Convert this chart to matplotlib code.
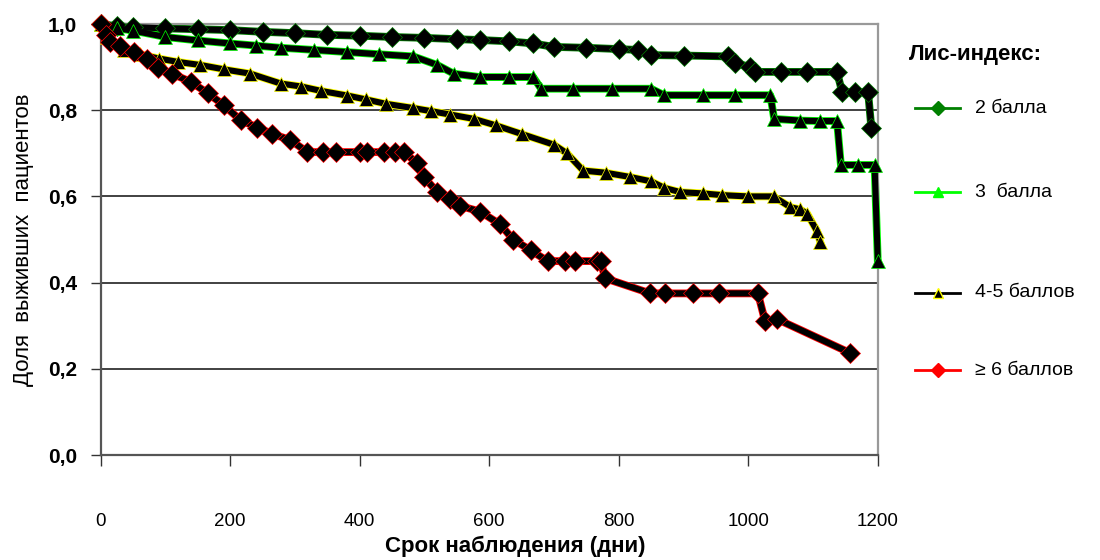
import numpy as np
import matplotlib.pyplot as plt
from matplotlib.lines import Line2D

# ---- data ----
days_2 = [0, 25, 50, 100, 150, 200, 250, 300, 350, 400, 450, 500, 550, 586, 630,
          668, 700, 750, 800, 829, 850, 900, 968, 980, 1003, 1010, 1050, 1090,
          1137, 1145, 1165, 1185, 1190]
surv_2 = [1.0, 0.995, 0.993, 0.99, 0.988, 0.986, 0.982, 0.979, 0.975, 0.973, 0.97,
          0.968, 0.965, 0.963, 0.96, 0.955, 0.947, 0.945, 0.942, 0.94, 0.928, 0.927,
          0.925, 0.91, 0.9, 0.889, 0.889, 0.889, 0.889, 0.842, 0.842, 0.842, 0.76]

days_3 = [0, 25, 50, 100, 150, 200, 240, 278, 330, 381, 430, 483, 520, 545, 586,
          630, 668, 680, 730, 790, 850, 870, 930, 980, 1034, 1040, 1080, 1110,
          1137, 1143, 1170, 1195, 1200]
surv_3 = [1.0, 0.99, 0.985, 0.97, 0.962, 0.955, 0.95, 0.945, 0.94, 0.935, 0.93,
          0.925, 0.905, 0.885, 0.877, 0.877, 0.877, 0.85, 0.85, 0.85, 0.85, 0.835,
          0.835, 0.835, 0.835, 0.78, 0.776, 0.775, 0.775, 0.673, 0.673, 0.673, 0.45]

days_45 = [0, 10, 36, 60, 90, 120, 154, 190, 231, 278, 310, 340, 381, 410, 440,
           483, 510, 540, 576, 610, 650, 700, 720, 745, 780, 818, 850, 870, 895,
           930, 960, 1000, 1039, 1065, 1080, 1091, 1106, 1111]
surv_45 = [1.0, 0.97, 0.94, 0.93, 0.92, 0.912, 0.905, 0.895, 0.885, 0.862, 0.855,
           0.845, 0.834, 0.825, 0.815, 0.805, 0.798, 0.79, 0.78, 0.765, 0.745, 0.72,
           0.70, 0.66, 0.655, 0.645, 0.635, 0.62, 0.61, 0.607, 0.603, 0.60, 0.60,
           0.575, 0.57, 0.56, 0.52, 0.495]

days_6 = [0, 8, 15, 30, 51, 72, 88, 110, 139, 165, 190, 216, 242, 265, 293, 319,
          344, 363, 401, 412, 437, 455, 468, 489, 499, 520, 540, 555, 586, 617,
          637, 664, 690, 717, 733, 767, 772, 779, 849, 872, 914, 955, 1015, 1026,
          1045, 1157]
surv_6 = [1.0, 0.975, 0.958, 0.948, 0.935, 0.92, 0.898, 0.885, 0.866, 0.84, 0.812,
          0.777, 0.76, 0.745, 0.731, 0.703, 0.703, 0.703, 0.703, 0.703, 0.703, 0.703,
          0.703, 0.677, 0.645, 0.61, 0.595, 0.578, 0.565, 0.535, 0.5, 0.475, 0.45,
          0.45, 0.45, 0.45, 0.45, 0.41, 0.375, 0.375, 0.375, 0.375, 0.375, 0.31,
          0.315, 0.237]

labels = ["2 балла", "3  балла", "4-5 баллов", "\u2265 6 баллов"]
edge_colors = ["#008000", "#00ff00", "#ffff00", "#ff0000"]
legend_line_colors = ["#008000", "#00ff00", "#000000", "#ff0000"]
legend_marker_colors = ["#008000", "#00ff00", "#000000", "#ff0000"]
markers = ["D", "^", "^", "D"]

plt.rcParams["font.family"] = ["Liberation Sans", "DejaVu Sans"]

fig = plt.figure(figsize=(11, 5.6), dpi=100)
ax = fig.add_axes([0.0915, 0.1875, 0.7065, 0.7695])

ax.set_xlim(0, 1200)
ax.set_ylim(0, 1.0)

for v in [0.2, 0.4, 0.6, 0.8]:
    ax.axhline(v, color="#333333", linewidth=1.3, zorder=1)

series = [(days_2, surv_2), (days_3, surv_3), (days_45, surv_45), (days_6, surv_6)]
for (d, s), ec, mk in zip(series, edge_colors, markers):
    # thin coloured rim under the thick black line
    ax.plot(d, s, color=ec, linewidth=5.6, clip_on=False, zorder=2)
    ax.plot(
        d, s,
        color="black",
        linewidth=4.4,
        marker=mk,
        markersize=10,
        markerfacecolor="black",
        markeredgecolor=ec,
        markeredgewidth=0.5,
        clip_on=False,
        zorder=3,
    )

ax.set_xticks(np.arange(0, 1201, 200))
ax.set_xticklabels([str(t) for t in range(0, 1201, 200)], fontsize=13.5)
ax.set_yticks(np.arange(0, 1.01, 0.2))
ax.set_yticklabels(["0,0", "0,2", "0,4", "0,6", "0,8", "1,0"],
                   fontsize=15, fontweight="bold")
ax.tick_params(axis="x", direction="out", length=8, width=1, pad=34, colors="#333333",
               labelcolor="black")
ax.tick_params(axis="y", direction="out", length=7, width=1, pad=10, colors="#333333",
               labelcolor="black")

for side in ["top", "right"]:
    ax.spines[side].set_color("#999999")
    ax.spines[side].set_linewidth(1.6)
for side in ["left", "bottom"]:
    ax.spines[side].set_color("#555555")
    ax.spines[side].set_linewidth(1.6)

fig.text(0.468, 0.024, "Срок наблюдения (дни)", fontsize=16, fontweight="bold",
         ha="center", va="center")
ax.set_ylabel("Доля  выживших  пациентов", fontsize=16, labelpad=10)

# legend drawn by hand to follow the irregular spacing
fig.text(0.887, 0.902, "Лис-индекс:", fontsize=16, fontweight="bold",
         ha="center", va="center")
entry_y = [0.807, 0.657, 0.477, 0.339]
for yy, lab, lc, mc, mk in zip(entry_y, labels, legend_line_colors,
                               legend_marker_colors, markers):
    fig.add_artist(Line2D([0.832, 0.873], [yy, yy], color=lc, linewidth=2,
                          transform=fig.transFigure))
    mec = "#ffff00" if lc == "#000000" else mc
    fig.add_artist(Line2D([0.8525], [yy], color=lc, marker=mk, markersize=7,
                          markerfacecolor=mc, markeredgecolor=mec, linestyle="none",
                          transform=fig.transFigure))
    fig.text(0.886, yy, lab, fontsize=14, ha="left", va="center")

fig.savefig("out.png", dpi=100)
